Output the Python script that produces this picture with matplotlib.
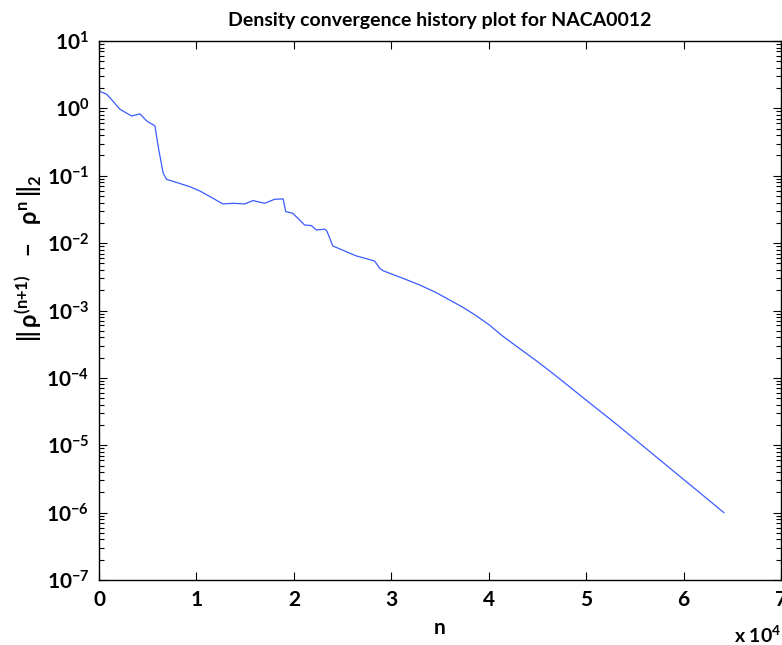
import matplotlib
matplotlib.use("Agg")
import matplotlib.pyplot as plt
import numpy as np
from matplotlib.ticker import FixedLocator, FuncFormatter, LogLocator, NullFormatter

plt.rcParams["font.family"] = ["Lato", "DejaVu Sans"]
plt.rcParams["font.weight"] = "bold"
plt.rcParams["mathtext.default"] = "regular"

# 迭代步数
n_iter = [0, 790, 1470, 2150, 3350, 4200, 4900, 5740, 6080, 6590, 6930, 9320,
          10350, 11700, 12700, 13760, 14960, 15810, 17000, 18030, 18900,
          19160, 19900, 20400, 21100, 21800, 22300, 23200, 23400, 24000,
          26400, 27900, 28300, 28800, 29130, 31180, 32900, 34600, 37330,
          38700, 40060, 41400, 43130, 44850, 46550, 49970, 53400, 64140]
# 密度残差
residual = [1.81, 1.62, 1.26, 0.97, 0.77, 0.83, 0.65, 0.55, 0.27, 0.109, 0.0887,
            0.0689, 0.0594, 0.0463, 0.0382, 0.039, 0.0382, 0.0428, 0.039,
            0.0448, 0.0453, 0.0294, 0.0277, 0.0234, 0.0186, 0.0182, 0.0157,
            0.0161, 0.0150, 0.00908, 0.00646, 0.00564, 0.00540, 0.00425,
            0.00391, 0.00301, 0.0024, 0.001845, 0.00112, 0.00084, 0.000611,
            0.00042, 0.000275, 0.000181, 0.0001175, 4.72e-5, 1.9e-5, 1.0e-6]

x_ticks = [0, 10000, 20000, 30000, 40000, 50000, 60000, 70000]

fig = plt.figure(figsize=(7.82, 6.45), dpi=100)
ax = fig.add_axes([99 / 782, 1 - 580 / 645, 682 / 782, 539 / 645])

ax.semilogy(n_iter, residual, color="#3a5cff", linewidth=0.9)

ax.set_xlim(0, 70000)
ax.set_ylim(1e-7, 1e1)
ax.xaxis.set_major_locator(FixedLocator(x_ticks))
ax.xaxis.set_major_formatter(FuncFormatter(lambda v, p: f"{v / 1e4:g}"))
ax.yaxis.set_major_locator(LogLocator(base=10, numticks=20))
ax.yaxis.set_minor_locator(LogLocator(base=10, subs=np.arange(2, 10), numticks=20))
ax.yaxis.set_minor_formatter(NullFormatter())

ax.tick_params(which="both", direction="in", top=True, right=True, labelsize=15, width=0.8)
ax.tick_params(which="major", length=6, pad=7)
ax.tick_params(which="minor", length=3.5)
for s in ax.spines.values():
    s.set_linewidth(1.0)

ax.set_title("Density convergence history plot for NACA0012", fontsize=14, fontweight="bold", pad=11)
ax.set_xlabel("n", fontsize=15, fontweight="bold", labelpad=6)
# y轴标签（手动定位，与原图对齐）
fig.text(28 / 782, 1 - 258 / 645,
         r"$\Vert\,\rho^{(n{+}1)}\;\; - \;\;\rho^{n}\,\Vert_2$",
         rotation=90, ha="center", va="center", fontsize=17, fontweight="bold")
ax.text(1.0, -0.083, r"x 10$^{4}$", transform=ax.transAxes, ha="right", va="top",
        fontsize=14, fontweight="bold")

fig.savefig("out.png", dpi=100)
